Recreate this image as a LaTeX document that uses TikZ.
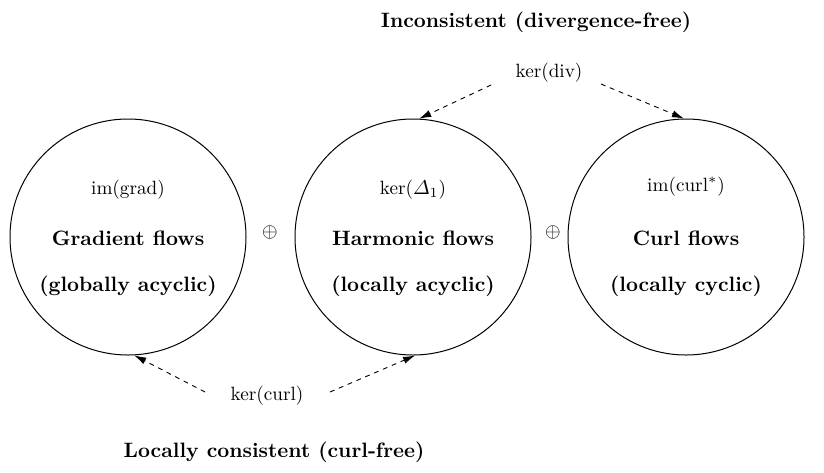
\documentclass[tikz,border=0pt]{standalone}
\usepackage{amsmath}
\usetikzlibrary{arrows.meta}
\tikzset{
  flowcirc/.style={circle, draw, line width=0.5pt, minimum size=118pt, inner sep=0pt},
  boldtxt/.style={font=\fontsize{10.4}{12}\selectfont\bfseries, inner sep=0pt},
  smalltxt/.style={font=\fontsize{9.6}{11}\selectfont, inner sep=0pt},
  darrow/.style={dashed, dash pattern=on 2.4pt off 2.4pt, line width=0.45pt, -{Latex[length=6pt,width=3.6pt]}}
}
\begin{document}
\begin{tikzpicture}[x=0.5pt,y=-0.5pt]
\useasboundingbox (0,0) rectangle (824,472);
% circles
\node[flowcirc] (c1) at (128,237) {};
\node[flowcirc] (c2) at (413,237) {};
\node[flowcirc] (c3) at (686,237) {};
% inner texts
\node[smalltxt, anchor=base] (t1a) at (128,194) {im(grad)};
\node[boldtxt] (t1b) at (128,238) {Gradient flows};
\node[boldtxt] (t1c) at (128,286) {(globally acyclic)};
\node[smalltxt, anchor=base] (t2a) at (413,194) {ker($\varDelta_1$)};
\node[boldtxt] (t2b) at (413,238) {Harmonic flows};
\node[boldtxt] (t2c) at (413,286) {(locally acyclic)};
\node[smalltxt, anchor=base] (t3a) at (686,191) {im(curl$^{*}$)};
\node[boldtxt] (t3b) at (686,238) {Curl flows};
\node[boldtxt] (t3c) at (686,286) {(locally cyclic)};
% direct sums
\node[smalltxt] (p1) at (270,232) {$\oplus$};
\node[smalltxt] (p2) at (553,232) {$\oplus$};
% titles
\node[boldtxt] (top) at (536,22) {Inconsistent (divergence-free)};
\node[boldtxt] (bot) at (274,452) {Locally consistent (curl-free)};
% kernel labels
\node[smalltxt] (kdiv) at (549,73) {ker(div)};
\node[smalltxt] (kcurl) at (267,396) {ker(curl)};
\coordinate (kd1) at (491,85);
\coordinate (kd2) at (601,84);
\coordinate (kc1) at (205,392);
\coordinate (kc2) at (330,392);
% arrows
\draw[darrow] (kd1) -- (c2.87.6);
\draw[darrow] (kd2) -- (c3.91);
\draw[darrow] (kc1) -- (c1.-87);
\draw[darrow] (kc2) -- (c2.-89.5);
\end{tikzpicture}
\end{document}
